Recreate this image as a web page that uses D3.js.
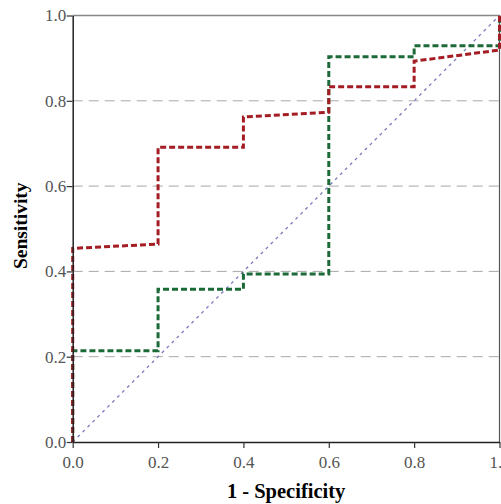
<!DOCTYPE html>
<html><head><meta charset="utf-8">
<script src="https://cdn.jsdelivr.net/npm/d3@7"></script>
<style>body{margin:0;background:#fff}svg{display:block}</style>
</head><body>
<script>
const ticks = [0, 0.2, 0.4, 0.6, 0.8, 1.0];
const redFpr = [0, 0, 0.2, 0.2, 0.4, 0.4, 0.6, 0.6, 0.8, 0.8, 1.0, 1.0];
const redTpr = [0, 0.454, 0.464, 0.691, 0.691, 0.762, 0.773, 0.833, 0.833, 0.893, 0.919, 1.0];
const greenFpr = [0, 0, 0.2, 0.2, 0.4, 0.4, 0.6, 0.6, 0.8, 0.8, 1.0, 1.0];
const greenTpr = [0, 0.214, 0.214, 0.358, 0.358, 0.394, 0.394, 0.903, 0.903, 0.929, 0.929, 1.0];
const refLine = [0, 1];

const W = 501, H = 504;
const m = {l: 72.7, r: 1.5, t: 15.5, b: 62};
const svg = d3.select("body").append("svg").attr("width", W).attr("height", H);
const x = d3.scaleLinear().domain([0,1]).range([m.l, W - m.r]);
const y = d3.scaleLinear().domain([0,1]).range([H - m.b, m.t]);

// gridlines
svg.append("g").selectAll("line").data(ticks.filter(t => t > 0 && t < 1)).join("line")
  .attr("x1", x(0)).attr("x2", x(1)).attr("y1", d => y(d)).attr("y2", d => y(d))
  .attr("stroke", "#a8a8a8").attr("stroke-width", 1).attr("stroke-dasharray", "10,6");

// frame top/right
svg.append("line").attr("x1", x(0)).attr("x2", x(1)).attr("y1", y(1)).attr("y2", y(1)).attr("stroke", "#888").attr("stroke-width", 1.5);
svg.append("line").attr("x1", x(1)).attr("x2", x(1)).attr("y1", y(1)).attr("y2", y(0)).attr("stroke", "#555").attr("stroke-width", 1.2);

// reference diagonal
svg.append("line").attr("x1", x(refLine[0])).attr("y1", y(refLine[0])).attr("x2", x(refLine[1])).attr("y2", y(refLine[1]))
  .attr("stroke", "#7878c0").attr("stroke-width", 1.3).attr("stroke-dasharray", "3,4");

const line = d3.line().x(d => x(d[0])).y(d => y(d[1]));
svg.append("path").datum(greenFpr.map((f,i) => [f, greenTpr[i]])).attr("d", line)
  .attr("fill", "none").attr("stroke", "#1c6a38").attr("stroke-width", 3).attr("stroke-dasharray", "6,3");
svg.append("path").datum(redFpr.map((f,i) => [f, redTpr[i]])).attr("d", line)
  .attr("fill", "none").attr("stroke", "#a51d24").attr("stroke-width", 3).attr("stroke-dasharray", "6,3");

// axes
const xa = svg.append("g").attr("transform", `translate(0,${y(0)})`)
  .call(d3.axisBottom(x).tickValues(ticks).tickFormat(d3.format(".1f")).tickSize(6).tickSizeOuter(0));
const ya = svg.append("g").attr("transform", `translate(${x(0)},0)`)
  .call(d3.axisLeft(y).tickValues(ticks).tickFormat(d3.format(".1f")).tickSize(6).tickSizeOuter(0));
[xa, ya].forEach(a => {
  a.select(".domain").attr("stroke", "#222").attr("stroke-width", 1.5);
  a.selectAll(".tick line").attr("stroke", "#333").attr("stroke-width", 1.2);
  a.selectAll("text").attr("font-family", "Liberation Serif, serif").attr("font-size", 17).attr("fill", "#555");
});
xa.selectAll("text").attr("dy", "1.0em");
ya.selectAll("text").attr("dx", "0.15em");

svg.append("text").attr("x", x(0.5)).attr("y", 498).attr("text-anchor", "middle")
  .attr("font-family", "Liberation Serif, serif").attr("font-weight", "bold").attr("font-size", 20.5).text("1 - Specificity");
svg.append("text").attr("transform", `translate(27,${y(0.5) - 3}) rotate(-90)`).attr("text-anchor", "middle")
  .attr("font-family", "Liberation Serif, serif").attr("font-weight", "bold").attr("font-size", 19.5).text("Sensitivity");
</script>
</body></html>
